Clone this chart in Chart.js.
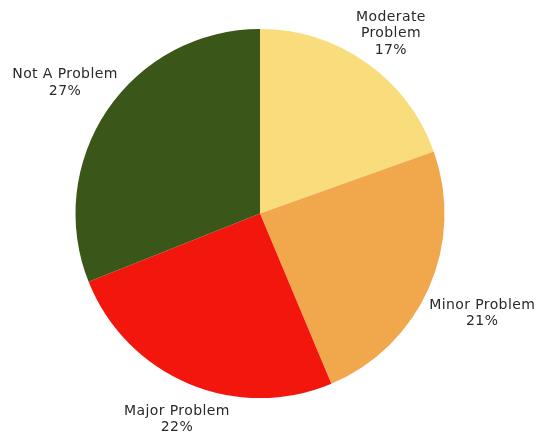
<!DOCTYPE html>
<html>
<head>
<meta charset="utf-8">
<script src="https://cdn.jsdelivr.net/npm/chart.js@4"></script>
<style>
  html, body { margin: 0; padding: 0; background: #fff; }
  #wrap { width: 550px; height: 433px; position: relative; }
</style>
</head>
<body>
<div id="wrap"><canvas id="pieChart"></canvas></div>
<script>
// --- Survey answers ---
const categories = ["Moderate Problem", "Minor Problem", "Major Problem", "Not A Problem"];
const labelLines = [["Moderate", "Problem"], ["Minor Problem"], ["Major Problem"], ["Not A Problem"]];
const percents = [17, 21, 22, 27];
const colors = ["#F9DC7C", "#F1A74C", "#F2160D", "#3B5619"];

// Draws "name / NN%" outside each slice, pushed out by the text box size
const outsideLabels = {
  id: "outsideLabels",
  afterDatasetsDraw(chart) {
    const ctx = chart.ctx;
    const meta = chart.getDatasetMeta(0);
    const lineH = 16.5;
    const gap = 2;
    ctx.save();
    ctx.font = "14px 'DejaVu Sans', sans-serif";
    ctx.letterSpacing = "0.4px";
    ctx.fillStyle = "#2a2a2a";
    ctx.textAlign = "center";
    ctx.textBaseline = "middle";
    meta.data.forEach((arc, i) => {
      const lines = labelLines[i].concat([percents[i] + "%"]);
      const w = Math.max(...lines.map(l => ctx.measureText(l).width));
      const h = lines.length * lineH;
      const mid = (arc.startAngle + arc.endAngle) / 2;
      const cx = Math.cos(mid), cy = Math.sin(mid);
      const off = arc.outerRadius + gap + Math.abs(cx) * w / 2 + Math.abs(cy) * h * 0.85 / 2;
      const x = arc.x + cx * off + 2;
      const y = arc.y + cy * off + 3;
      lines.forEach((l, j) => {
        ctx.fillText(l, x, y - h / 2 + lineH / 2 + j * lineH);
      });
    });
    ctx.restore();
  }
};

window.addEventListener("DOMContentLoaded", () => {
  const ctx = document.getElementById("pieChart").getContext("2d");
  new Chart(ctx, {
    type: "pie",
    data: {
      labels: categories,
      datasets: [{
        data: percents,
        backgroundColor: colors,
        borderWidth: 0
      }]
    },
    options: {
      responsive: true,
      maintainAspectRatio: false,
      animation: false,
      layout: { padding: { left: 0, right: 30, top: 29, bottom: 35 } },
      plugins: {
        legend: { display: false },
        tooltip: { enabled: false }
      }
    },
    plugins: [outsideLabels]
  });
});
</script>
</body>
</html>
